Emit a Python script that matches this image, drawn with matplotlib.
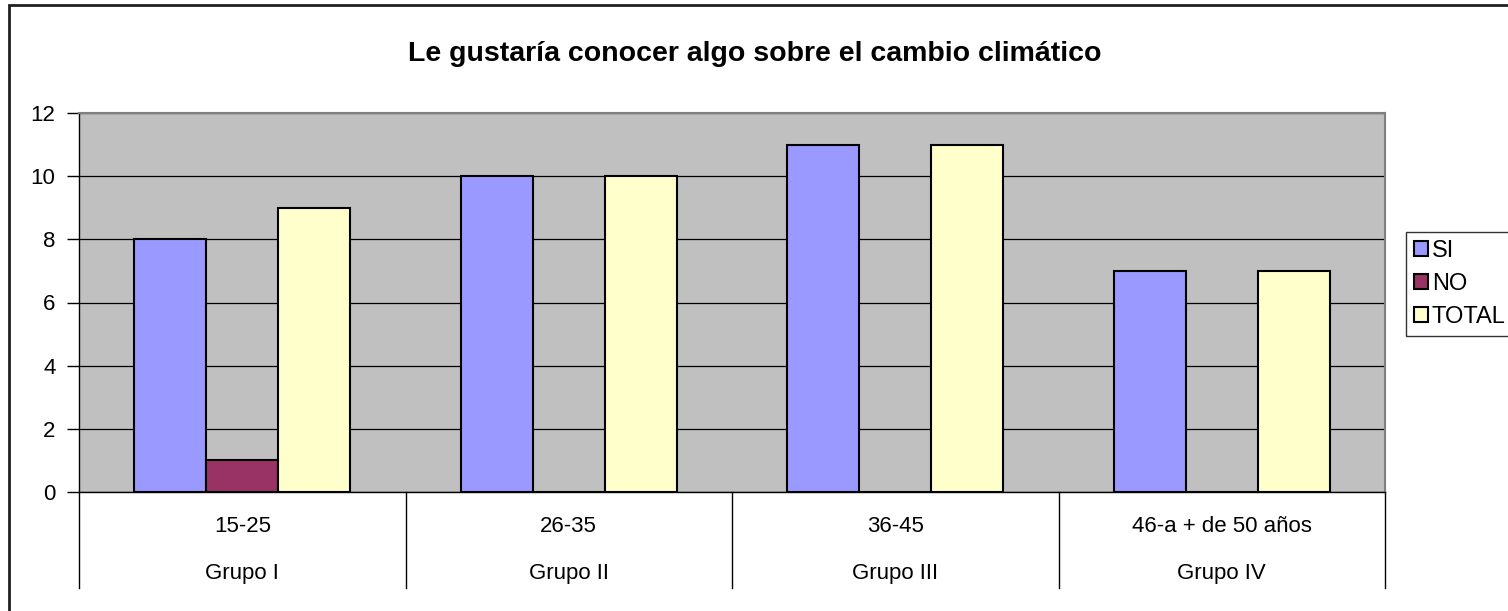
import numpy as np
import matplotlib.pyplot as plt
from matplotlib.patches import Rectangle, Patch
from matplotlib.transforms import blended_transform_factory

plt.rcParams['font.family'] = ['Liberation Sans', 'DejaVu Sans']

# datos
edades = ['15-25', '26-35', '36-45', '46-a + de 50 años']
grupos = ['Grupo I', 'Grupo II', 'Grupo III', 'Grupo IV']
si = [8, 10, 11, 7]
no = [1, 0, 0, 0]
total = [9, 10, 11, 7]
series = ['SI', 'NO', 'TOTAL']
colores = ['#9999FF', '#993366', '#FFFFCC']

W, H = 1508, 611
fig = plt.figure(figsize=(W / 100, H / 100), dpi=100)
ax = fig.add_axes([79 / W, 1 - 492 / H, (1385 - 79) / W, (492 - 113) / H])
ax.set_facecolor('#C0C0C0')

x = np.arange(len(edades))
w = 72 / 326.5
for k, (vals, col) in enumerate(zip([si, no, total], colores)):
    ax.bar(x + (k - 1) * w, vals, width=w, color=col, edgecolor='black',
           linewidth=1.5, zorder=3)

ax.set_xlim(-0.5, len(edades) - 0.5)
ax.set_ylim(0, 12)
ax.set_yticks(range(0, 13, 2))
ax.yaxis.grid(True, color='black', linewidth=0.9, zorder=1)
ax.set_axisbelow(True)
ax.set_xticks([])
ax.tick_params(axis='y', direction='out', length=9, width=1, labelsize=16, pad=8)

for s in ['top', 'right']:
    ax.spines[s].set_color('#808080')
    ax.spines[s].set_linewidth(1.5)
for s in ['left', 'bottom']:
    ax.spines[s].set_color('black')
    ax.spines[s].set_linewidth(1)

# etiquetas de categoria en dos niveles
tr = blended_transform_factory(ax.transData, ax.transAxes)
h_ax = 492 - 113
for i in range(len(edades)):
    ax.text(i, -35 / h_ax, edades[i], transform=tr, ha='center', va='center', fontsize=16)
    ax.text(i, -82 / h_ax, grupos[i], transform=tr, ha='center', va='center', fontsize=16)
for b in np.arange(len(edades) + 1) - 0.5:
    ax.plot([b, b], [0, -96 / h_ax], transform=tr, color='black', linewidth=1,
            clip_on=False)

fig.text(755 / W, 1 - 54 / H, 'Le gustaría conocer algo sobre el cambio climático',
         ha='center', va='center', fontsize=20.5, fontweight='bold')

handles = [Patch(facecolor=c, edgecolor='black', linewidth=1.5) for c in colores]
leg = fig.legend(handles, series, loc='upper left', bbox_to_anchor=(1406 / W, 1 - 232 / H),
                 fontsize=17, frameon=True, fancybox=False, edgecolor='black',
                 handlelength=0.6, handleheight=0.6, handletextpad=0.15,
                 borderpad=0.35, labelspacing=0.45, borderaxespad=0)
leg.get_frame().set_linewidth(1)

# borde del grafico
fig.patches.append(Rectangle((9 / W, -0.01), 1.05, 1 - 5 / H + 0.01,
                             transform=fig.transFigure, fill=False,
                             edgecolor='#202020', linewidth=2))

fig.savefig('out.png', dpi=100)
